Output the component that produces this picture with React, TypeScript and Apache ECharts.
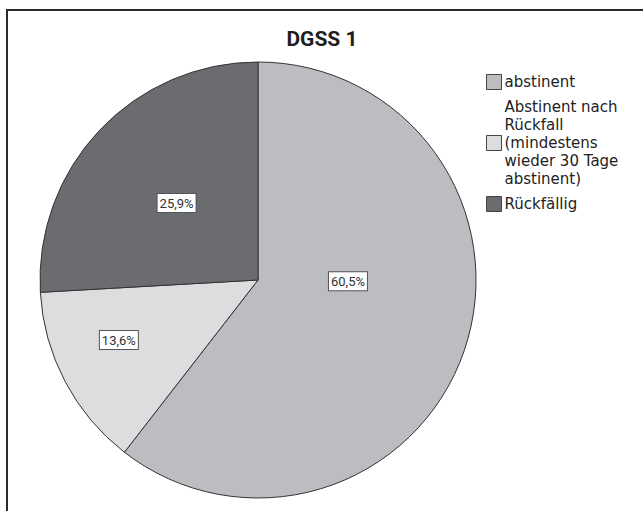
import React, { useEffect, useRef } from "react";
import * as echarts from "echarts";

const titleText = "DGSS 1";
const categories = [
  "abstinent",
  "Abstinent nach\nRückfall\n(mindestens\nwieder 30 Tage\nabstinent)",
  "Rückfällig",
];
const values = [60.5, 13.6, 25.9];
const sliceColors = ["#bcbdc0", "#dcdddf", "#6b6c6f"];
const labelNudges = [
  [-16, -35],
  [-40, 8],
  [0, 0],
];

export default function App() {
  const ref = useRef<HTMLDivElement>(null);
  useEffect(() => {
    if (!ref.current) return;
    const chart = echarts.init(ref.current, undefined, { renderer: "svg" });
    chart.setOption({
      animation: false,
      backgroundColor: "#ffffff",
      title: {
        text: titleText,
        left: 322,
        top: 28,
        textAlign: "center",
        padding: 0,
        textStyle: {
          fontFamily: "Roboto",
          fontWeight: "bold",
          fontSize: 21,
          color: "#1e1e1e",
        },
      },
      graphic: [
        {
          type: "rect",
          shape: { x: 7, y: 10, width: 700, height: 600 },
          style: { fill: "none", stroke: "#2b2b2b", lineWidth: 2 },
          silent: true,
        },
      ],
      legend: {
        orient: "vertical",
        left: 486,
        top: 73,
        padding: 0,
        itemWidth: 15,
        itemHeight: 15,
        itemGap: 7,
        icon: "rect",
        itemStyle: { borderColor: "#444", borderWidth: 1 },
        textStyle: {
          fontFamily: "DejaVu Sans",
          fontSize: 15,
          lineHeight: 18,
          color: "#222",
          padding: [0, 0, 0, -2],
        },
        data: categories,
      },
      series: [
        {
          type: "pie",
          center: [258, 280],
          radius: 218,
          startAngle: 90,
          clockwise: true,
          avoidLabelOverlap: false,
          itemStyle: { borderColor: "#333", borderWidth: 1 },
          label: {
            show: true,
            position: "inside",
            formatter: (p: any) => p.value.toFixed(1).replace(".", ",") + "%",
            fontFamily: "Roboto",
            fontSize: 13,
            lineHeight: 15,
            color: "#333",
            backgroundColor: "#ffffff",
            borderColor: "#555",
            borderWidth: 1,
            padding: [2, 2, 1, 2],
          },
          labelLayout: (params: any) => ({
            dx: labelNudges[params.dataIndex][0],
            dy: labelNudges[params.dataIndex][1],
          }),
          labelLine: { show: false },
          emphasis: { disabled: true },
          data: categories.map((name, i) => ({
            name,
            value: values[i],
            itemStyle: { color: sliceColors[i] },
          })),
        },
      ],
    });
    return () => chart.dispose();
  }, []);
  return (
    <div
      ref={ref}
      style={{ position: "fixed", left: 0, top: 0, width: 643, height: 511 }}
    />
  );
}
